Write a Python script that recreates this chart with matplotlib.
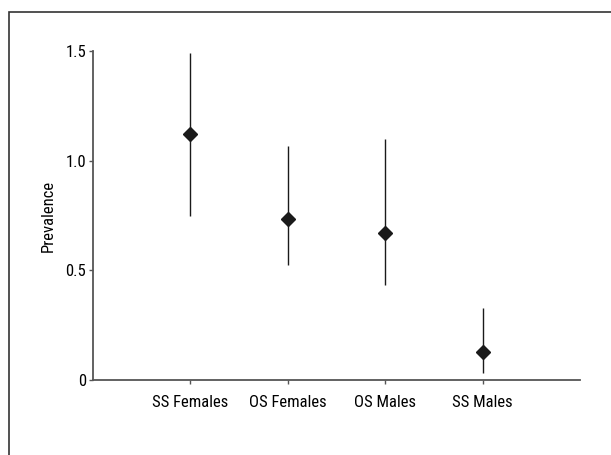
import numpy as np
import matplotlib
matplotlib.use("Agg")
import matplotlib.pyplot as plt
from matplotlib import font_manager
from matplotlib.patches import Rectangle

groups = ["SS Females", "OS Females", "OS Males", "SS Males"]
prevalence = [1.12, 0.735, 0.67, 0.13]
ci_low = [0.75, 0.525, 0.435, 0.03]
ci_high = [1.49, 1.065, 1.10, 0.33]

# pick a narrow sans if one is installed
names = {f.name for f in font_manager.fontManager.ttflist}
family = "DejaVu Sans"
for cand in ["Liberation Sans Narrow", "Roboto Condensed", "Open Sans Condensed"]:
    if cand in names:
        family = cand
        break
plt.rcParams["font.family"] = [family, "DejaVu Sans"]

fig = plt.figure(figsize=(6.11, 4.55), dpi=100)
ax = fig.add_axes([0.1522, 0.1648, 0.797, 0.7231])

x = np.arange(1, len(groups) + 1)
prev = np.array(prevalence)
yerr = [prev - np.array(ci_low), np.array(ci_high) - prev]
ax.errorbar(x, prev, yerr=yerr, fmt="D", color="#1a1a1a", ms=7,
            elinewidth=1.0, capsize=0, ecolor="#1a1a1a")

ax.set_xlim(0, 5)
ax.set_ylim(0, 1.5)
ax.set_xticks(x)
ax.set_xticklabels(groups)
ax.set_yticks([0, 0.5, 1.0, 1.5])
ax.set_yticklabels(["0", "0.5", "1.0", "1.5"])
ax.set_ylabel("Prevalence", fontsize=12, labelpad=7)

for s in ["top", "right"]:
    ax.spines[s].set_visible(False)
for s in ["left", "bottom"]:
    ax.spines[s].set_color("#555555")
    ax.spines[s].set_linewidth(1.3)
ax.tick_params(direction="out", length=3, width=1, color="#555555",
               labelsize=12, pad=2)
ax.tick_params(axis="x", pad=8)

# outer frame (left and top edges only visible)
fig.patches.append(Rectangle((8.5 / 611, -0.1), 1.2, 1.1 - 12.5 / 455,
                             transform=fig.transFigure, fill=False,
                             edgecolor="#333333", linewidth=1.2))

fig.savefig("out.png", dpi=100)
